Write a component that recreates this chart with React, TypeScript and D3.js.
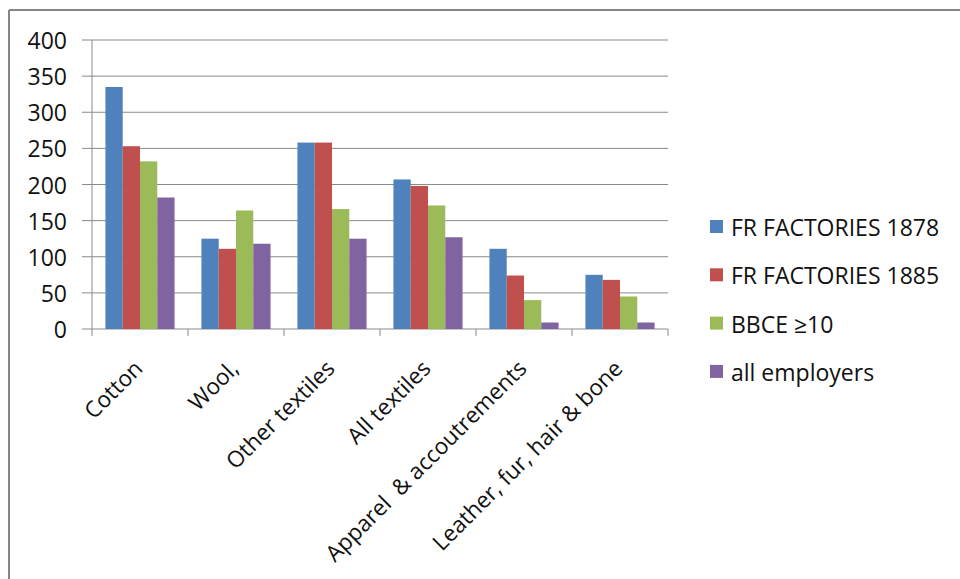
import React from "react";
import * as d3 from "d3";

const categories = [
  "Cotton",
  "Wool,",
  "Other textiles",
  "All textiles",
  "Apparel  & accoutrements",
  "Leather, fur, hair & bone",
];
const seriesNames = ["FR FACTORIES 1878", "FR FACTORIES 1885", "BBCE \u226510", "all employers"];
const fr1878 = [335, 125, 258, 207, 111, 75];
const fr1885 = [253, 111, 258, 198, 74, 68];
const bbce10 = [232, 164, 166, 171, 40, 45];
const allEmployers = [182, 118, 125, 127, 9, 9];
const seriesColors = ["#4F81BD", "#C0504D", "#9BBB59", "#8064A2"];
const yTicks = [0, 50, 100, 150, 200, 250, 300, 350, 400];

const W = 960;
const H = 579;
const plot = { left: 92, right: 668, top: 40, bottom: 329 };
const font = "'Open Sans', Calibri, 'Liberation Sans', sans-serif";

export default function App() {
  const series = [fr1878, fr1885, bbce10, allEmployers];
  const x0 = d3
    .scaleBand<string>()
    .domain(categories)
    .range([plot.left, plot.right])
    .paddingInner(0.28)
    .paddingOuter(0.14);
  const x1 = d3
    .scaleBand<number>()
    .domain(d3.range(series.length))
    .range([0, x0.bandwidth()]);
  const y = d3.scaleLinear().domain([0, 400]).range([plot.bottom, plot.top]);
  const step = (plot.right - plot.left) / categories.length;

  return (
    <svg
      width={W}
      height={H}
      style={{ position: "absolute", left: 0, top: 0, background: "#fff" }}
      fontFamily={font}
    >
      <rect x={0} y={0} width={W} height={H} fill="#fff" />
      {/* chart frame: top and left edges visible */}
      <line x1={9} y1={10} x2={W} y2={10} stroke="#868686" strokeWidth={2} />
      <line x1={9} y1={10} x2={9} y2={H} stroke="#868686" strokeWidth={2} />

      {/* gridlines and y tick labels */}
      {yTicks.map((t) => (
        <g key={t}>
          <line
            x1={plot.left - 10}
            x2={plot.right}
            y1={y(t)}
            y2={y(t)}
            stroke="#8a8a8a"
            strokeWidth={1}
          />
          <text
            x={67}
            y={y(t)}
            textAnchor="end"
            dominantBaseline="central"
            fontSize={23}
            fill="#111"
          >
            {t}
          </text>
        </g>
      ))}

      {/* y axis line */}
      <line x1={plot.left} x2={plot.left} y1={plot.top} y2={plot.bottom} stroke="#8a8a8a" strokeWidth={1} />

      {/* category tick marks */}
      {d3.range(categories.length + 1).map((i) => (
        <line
          key={i}
          x1={plot.left + i * step}
          x2={plot.left + i * step}
          y1={plot.bottom}
          y2={plot.bottom + 7}
          stroke="#8a8a8a"
          strokeWidth={1}
        />
      ))}

      {/* bars */}
      {categories.map((c, ci) => (
        <g key={c} transform={`translate(${x0(c)},0)`}>
          {series.map((s, si) => (
            <rect
              key={si}
              x={x1(si)}
              y={y(s[ci])}
              width={x1.bandwidth()}
              height={y(0) - y(s[ci])}
              fill={seriesColors[si]}
            />
          ))}
        </g>
      ))}

      {/* rotated category labels */}
      {categories.map((c) => {
        const cx = (x0(c) as number) + x0.bandwidth() / 2 + 4;
        const cy = plot.bottom + 41;
        return (
          <text
            key={c}
            transform={`translate(${cx},${cy}) rotate(-45)`}
            textAnchor="end"
            fontSize={22.5}
            fill="#111"
            style={{ whiteSpace: "pre" }}
          >
            {c}
          </text>
        );
      })}

      {/* legend */}
      {seriesNames.map((name, i) => {
        const ly = 227 + i * 48.3;
        return (
          <g key={name}>
            <rect x={710} y={ly - 7} width={13} height={13} fill={seriesColors[i]} />
            <text x={731} y={ly} dominantBaseline="central" fontSize={23} fill="#111">
              {name}
            </text>
          </g>
        );
      })}
    </svg>
  );
}
